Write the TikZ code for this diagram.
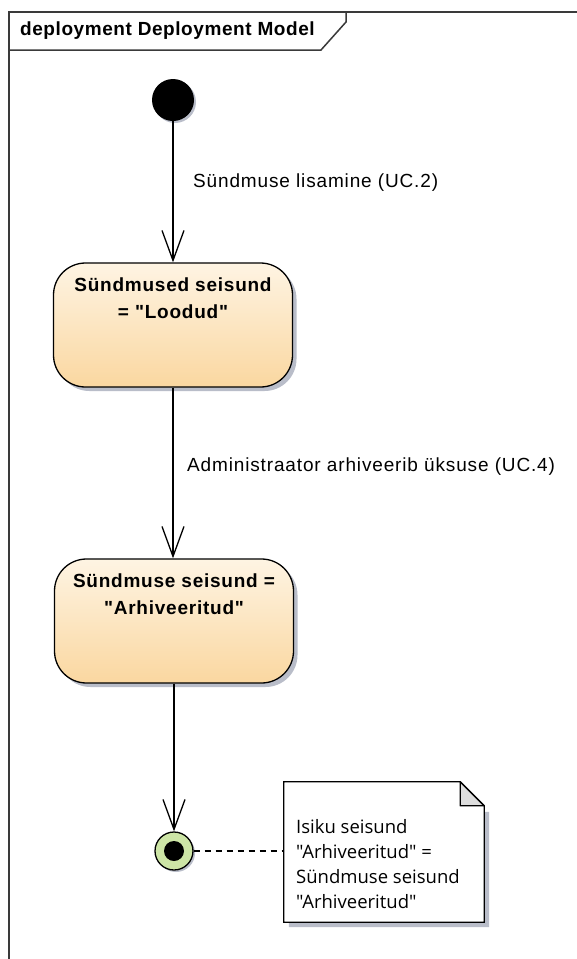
\documentclass[tikz,border=0pt]{standalone}
\usepackage{fontspec}
\setmainfont{Liberation Sans}[Ligatures=TeXOff]
\newfontfamily\notefont{Open Sans}[Ligatures=TeXOff]
\usetikzlibrary{arrows.meta,shadows,calc}

\definecolor{framec}{HTML}{3A3A3A}
\definecolor{statetop}{HTML}{FEF4E3}
\definecolor{statebot}{HTML}{FAD7A0}
\definecolor{shadowc}{HTML}{B9BDC9}
\definecolor{finalc}{HTML}{CDE5A6}
\definecolor{foldc}{HTML}{DDDDDD}

\tikzset{
  frameline/.style={draw=framec, line width=1.5pt},
  titletext/.style={font=\fontsize{19}{22}\selectfont\bfseries\addfontfeatures{LetterSpace=3}, inner sep=0pt},
  statebox/.style={draw, line width=1.3pt, rounded corners=32pt,
    top color=statetop, bottom color=statebot,
    minimum width=239pt, minimum height=124pt,
    drop shadow={shadow xshift=4pt, shadow yshift=-4pt, fill=shadowc, opacity=1}},
  statetext/.style={font=\fontsize{19}{27}\selectfont\bfseries\addfontfeatures{LetterSpace=4},
    align=center, inner sep=0pt, anchor=north},
  conn/.style={draw, line width=1.3pt, -{Straight Barb[length=30pt,width=22pt,line width=1.3pt]}},
  lbl/.style={font=\fontsize{19}{22}\selectfont\addfontfeatures{LetterSpace=4.5}, inner sep=0pt, anchor=west},
  notetext/.style={font=\notefont\fontsize{18.5}{25}\selectfont, align=left, inner sep=0pt, anchor=north west},
}

\begin{document}
\begin{tikzpicture}[x=1pt,y=-1pt]
  \useasboundingbox[fill=white] (0,0) rectangle (576,959);

  % diagram frame and name tab
  \draw[frameline] (9,990) -- (9,12) -- (600,12);
  \draw[frameline] (9,50) -- (321,50) -- (346,22) -- (346,12);
  \node[titletext, anchor=west] (title) at (20,31) {deployment Deployment Model};

  % initial pseudo state
  \node[circle, fill=black, minimum size=42pt, inner sep=0pt,
        drop shadow={shadow xshift=2pt, shadow yshift=-2pt, fill=shadowc, opacity=1}] (init) at (173,100) {};

  % states
  \node[statebox] (s1) at (173,325) {};
  \node[statetext] (s1t) at (173,278) {Sündmused seisund\\= "Loodud"};

  \node[statebox] (s2) at (174,621) {};
  \node[statetext] (s2t) at (174,574) {Sündmuse seisund =\\"Arhiveeritud"};

  % final state
  \node[circle, draw, line width=1.3pt, fill=finalc, minimum size=38pt, inner sep=0pt,
        drop shadow={shadow xshift=2pt, shadow yshift=-2pt, fill=shadowc, opacity=1}] (fin) at (174,851) {};
  \node[circle, fill=black, minimum size=20pt, inner sep=0pt] (finin) at (fin) {};

  % transitions
  \draw[conn] (init.south) -- (init.south |- s1.north);
  \node[lbl] (l1) at (193,183) {Sündmuse lisamine (UC.2)};
  \draw[conn] (s1.south) -- (s1.south |- s2.north);
  \node[lbl] (l2) at (187,467) {Administraator arhiveerib üksuse (UC.4)};
  \draw[conn] (s2.south) -- (s2.south |- fin.north);

  % note with folded corner
  \node[minimum width=200pt, minimum height=140pt, inner sep=0pt] (note) at (384,852) {};
  \fill[shadowc] ($(note.north east)+(5,30)$) -- ($(note.south east)+(5,5)$)
       -- ($(note.south west)+(5,5)$) -- ($(note.south west)+(5,0)$)
       -- ($(note.south east)+(0,0)$) -- ($(note.north east)+(0,30)$) -- cycle;
  \filldraw[fill=white, draw=black, line width=1.3pt]
       (note.north west) -- ($(note.north east)+(-24,0)$) -- ($(note.north east)+(0,24)$)
       -- (note.south east) -- (note.south west) -- cycle;
  \filldraw[fill=foldc, draw=black, line width=1.3pt, line join=round]
       ($(note.north east)+(-24,0)$) -- ($(note.north east)+(-24,24)$) -- ($(note.north east)+(0,24)$) -- cycle;
  \node[notetext] (nt) at (296,819.5) {Isiku seisund\\"Arhiveeritud" =\\Sündmuse seisund\\"Arhiveeritud"};

  % note anchor line
  \draw[line width=1.3pt, dash pattern=on 6pt off 5pt] (fin.east) -- (fin.east -| note.west);
\end{tikzpicture}
\end{document}
